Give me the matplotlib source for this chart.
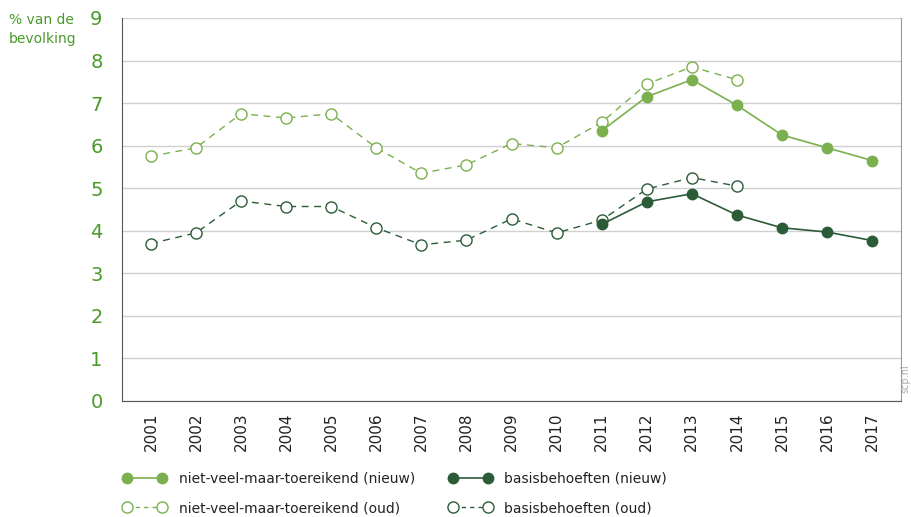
import numpy as np
import matplotlib
matplotlib.use('Agg')
import matplotlib.pyplot as plt
from matplotlib.lines import Line2D

# data
years = [str(y) for y in range(2001, 2018)]
nvmt_oud = [5.75, 5.95, 6.75, 6.65, 6.75, 5.95, 5.35, 5.55, 6.05, 5.95, 6.55, 7.45, 7.85, 7.55]
nvmt_nieuw = [6.35, 7.15, 7.55, 6.95, 6.25, 5.95, 5.65]
basis_oud = [3.7, 3.95, 4.7, 4.57, 4.57, 4.07, 3.67, 3.78, 4.28, 3.95, 4.25, 4.98, 5.25, 5.05]
basis_nieuw = [4.15, 4.68, 4.87, 4.37, 4.07, 3.97, 3.77]

light = '#7bb04e'
dark = '#2b5c37'
txtgreen = '#4a9a2a'

fig = plt.figure(figsize=(9.12, 5.17), dpi=100)
ax = fig.add_axes([0.1338, 0.2244, 0.8542, 0.7408])

x = np.arange(len(years))
x_oud = x[:len(nvmt_oud)]
x_nieuw = x[10:10 + len(nvmt_nieuw)]

ax.plot(x_oud, nvmt_oud, color=light, lw=1, ls=(0, (5, 4)), marker='o', ms=8,
        mfc='white', mec=light, mew=1, zorder=3)
ax.plot(x_oud, basis_oud, color=dark, lw=1, ls=(0, (5, 4)), marker='o', ms=8,
        mfc='white', mec=dark, mew=1, zorder=3)
ax.plot(x_nieuw, nvmt_nieuw, color=light, lw=1.2, marker='o', ms=7.5,
        mfc=light, mec=light, zorder=4)
ax.plot(x_nieuw, basis_nieuw, color=dark, lw=1.2, marker='o', ms=7.5,
        mfc=dark, mec=dark, zorder=4)

ax.set_xlim(-0.64, 16.64)
ax.set_ylim(0, 9)
ax.set_yticks(range(0, 10))
ax.set_xticks(x)
ax.set_xticklabels(years, rotation=90, fontsize=11, color='#222222')
ax.tick_params(axis='y', colors=txtgreen, labelsize=14, length=0, pad=14)
ax.tick_params(axis='x', length=0, pad=8)
for lab in ax.get_yticklabels():
    lab.set_color(txtgreen)
ax.grid(axis='y', color='#d0d0d0', lw=1)
ax.set_axisbelow(True)
ax.spines['top'].set_visible(False)
ax.spines['left'].set_color('#555555')
ax.spines['bottom'].set_color('#555555')
ax.spines['right'].set_color('#999999')

fig.text(0.01, 0.975, '% van de\nbevolking', color=txtgreen, fontsize=10,
         va='top', ha='left', linespacing=1.5)
fig.text(0.993, 0.24, 'scp.nl', color='#aaaaaa', fontsize=7, rotation=90,
         ha='center', va='bottom')

h1 = [Line2D([], [], color=light, lw=1.2, marker='o', ms=7.5, mfc=light, mec=light),
      Line2D([], [], color=light, lw=1, ls=(0, (3, 3)), marker='o', ms=8, mfc='white', mec=light)]
h2 = [Line2D([], [], color=dark, lw=1.2, marker='o', ms=7.5, mfc=dark, mec=dark),
      Line2D([], [], color=dark, lw=1, ls=(0, (3, 3)), marker='o', ms=8, mfc='white', mec=dark)]
kw = dict(loc='upper left', frameon=False, fontsize=10, numpoints=2,
          handlelength=3.1, labelspacing=1.15, handletextpad=0.9, borderaxespad=0)
leg1 = fig.legend(h1, ['niet-veel-maar-toereikend (nieuw)', 'niet-veel-maar-toereikend (oud)'],
                  bbox_to_anchor=(0.129, 0.099), **kw)
leg2 = fig.legend(h2, ['basisbehoeften (nieuw)', 'basisbehoeften (oud)'],
                  bbox_to_anchor=(0.486, 0.099), **kw)
for t in leg1.get_texts() + leg2.get_texts():
    t.set_color('#222222')

fig.savefig('out.png', dpi=100)
